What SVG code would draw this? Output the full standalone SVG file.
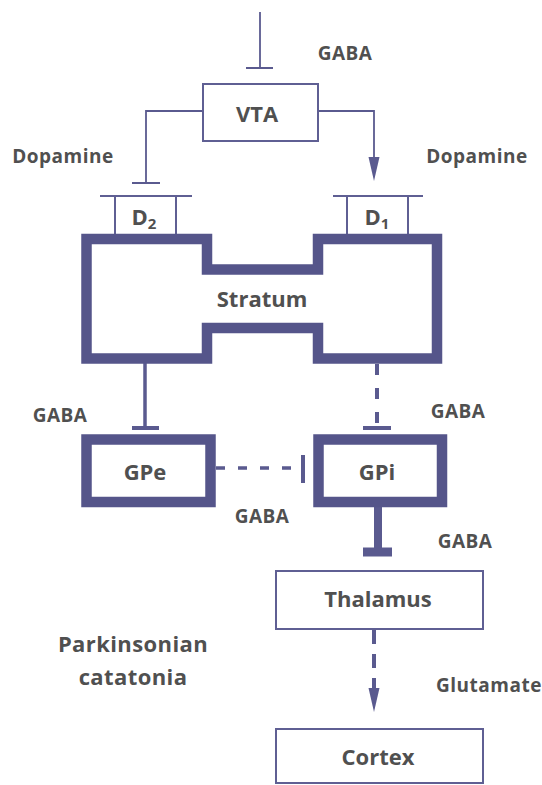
<svg xmlns="http://www.w3.org/2000/svg" width="542" height="785" viewBox="0 0 542 785">
<style>
text{font-family:"Open Sans","Noto Sans","Liberation Sans",sans-serif;font-weight:700;fill:#505050}
.lbl{font-size:19px;letter-spacing:0.5px}
.node{font-size:22px}
.thin{fill:none;stroke:#5f5f93;stroke-width:2}
.thick{fill:none;stroke:#55558a;stroke-width:10.5}
.con{fill:none;stroke:#5a5a8f}
</style>
<rect width="542" height="785" fill="#fff"/>
<g id="connectors">
<line class="con" x1="260" y1="12" x2="260" y2="68" stroke-width="1.8"/>
<line class="con" x1="246" y1="68" x2="273" y2="68" stroke-width="2"/>
<polyline class="con" points="202,111 146,111 146,183" stroke-width="1.8"/>
<line class="con" x1="132" y1="183" x2="160" y2="183" stroke-width="2"/>
<polyline class="con" points="318,111 374,111 374,158" stroke-width="1.8"/>
<path d="M368.5,157 L379.5,157 L374,181 Z" fill="#5a5a8f"/>
<line class="con" x1="145" y1="363" x2="145" y2="428" stroke-width="3.5"/>
<line class="con" x1="132" y1="428" x2="159" y2="428" stroke-width="4"/>
<line class="con" x1="377" y1="364" x2="377" y2="426" stroke-width="4" stroke-dasharray="11,13"/>
<line class="con" x1="363" y1="428" x2="391" y2="428" stroke-width="4"/>
<line class="con" x1="216" y1="468" x2="302" y2="468" stroke-width="3.5" stroke-dasharray="9,13"/>
<line class="con" x1="303" y1="455" x2="303" y2="483" stroke-width="4"/>
<line class="con" x1="378" y1="507" x2="378" y2="550" stroke-width="8"/>
<line class="con" x1="363" y1="552" x2="392" y2="552" stroke-width="9"/>
<line class="con" x1="374" y1="630" x2="374" y2="690" stroke-width="4" stroke-dasharray="14,10"/>
<path d="M368.5,688 L379.5,688 L374,712 Z" fill="#5a5a8f"/>
</g>
<g id="vta">
<rect class="thin" x="203" y="84" width="115" height="57"/>
<text class="node" x="257" y="122" text-anchor="middle" font-size="23">VTA</text>
</g>
<g id="d2">
<line class="thin" x1="100" y1="196" x2="192" y2="196" stroke-width="1.8"/>
<line class="thin" x1="115" y1="196" x2="115" y2="234" stroke-width="1.8"/>
<line class="thin" x1="176" y1="196" x2="176" y2="234" stroke-width="1.8"/>
<text class="node" x="144" y="225" text-anchor="middle" font-size="21">D<tspan font-size="15" dy="4">2</tspan></text>
</g>
<g id="d1">
<line class="thin" x1="333" y1="196" x2="423" y2="196" stroke-width="1.8"/>
<line class="thin" x1="347" y1="196" x2="347" y2="234" stroke-width="1.8"/>
<line class="thin" x1="408" y1="196" x2="408" y2="234" stroke-width="1.8"/>
<text class="node" x="377" y="225" text-anchor="middle" font-size="21">D<tspan font-size="15" dy="4">1</tspan></text>
</g>
<g id="stratum">
<path class="thick" d="M86.5,239 H207 V269.5 H318 V239 H437 V358.5 H318 V328 H207 V358.5 H86.5 Z"/>
<text class="node" x="262" y="307" text-anchor="middle" font-size="23">Stratum</text>
</g>
<g id="gpe">
<rect class="thick" x="86.5" y="439.5" width="124" height="62.5"/>
<text class="node" x="145" y="480" text-anchor="middle">GPe</text>
</g>
<g id="gpi">
<rect class="thick" x="318.5" y="439.5" width="123.5" height="62.5"/>
<text class="node" x="377" y="480" text-anchor="middle">GPi</text>
</g>
<g id="thalamus">
<rect class="thin" x="276" y="571" width="207" height="58" stroke-width="2.5"/>
<text class="node" x="378" y="607" text-anchor="middle" font-size="23">Thalamus</text>
</g>
<g id="cortex">
<rect class="thin" x="276" y="729" width="207" height="54" stroke-width="2.5"/>
<text class="node" x="378" y="765" text-anchor="middle" font-size="23">Cortex</text>
</g>
<g id="labels">
<text class="lbl" x="345" y="60" text-anchor="middle">GABA</text>
<text class="lbl" x="63" y="163" text-anchor="middle">Dopamine</text>
<text class="lbl" x="477" y="163" text-anchor="middle">Dopamine</text>
<text class="lbl" x="60" y="422" text-anchor="middle">GABA</text>
<text class="lbl" x="458" y="418" text-anchor="middle">GABA</text>
<text class="lbl" x="262" y="523" text-anchor="middle">GABA</text>
<text class="lbl" x="465" y="548" text-anchor="middle">GABA</text>
<text class="lbl" x="489" y="692" text-anchor="middle">Glutamate</text>
<text class="node" x="133" y="652" text-anchor="middle" font-size="22" letter-spacing="0.4">Parkinsonian</text>
<text class="node" x="133" y="685" text-anchor="middle" font-size="22" letter-spacing="0.4">catatonia</text>
</g>
</svg>
